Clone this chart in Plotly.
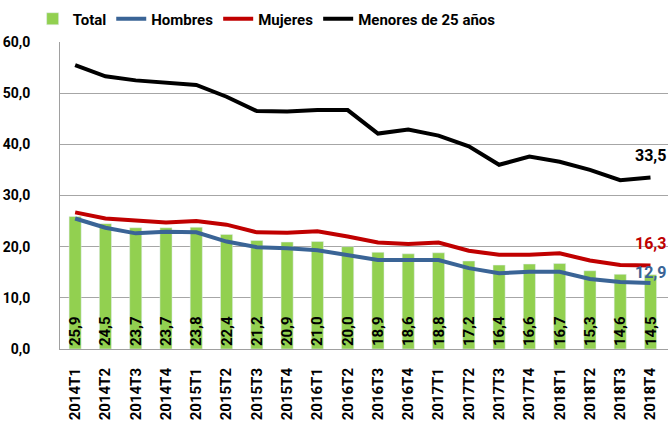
import plotly.graph_objects as go

categories = ["2014T1","2014T2","2014T3","2014T4","2015T1","2015T2","2015T3","2015T4",
              "2016T1","2016T2","2016T3","2016T4","2017T1","2017T2","2017T3","2017T4",
              "2018T1","2018T2","2018T3","2018T4"]
total = [25.9,24.5,23.7,23.7,23.8,22.4,21.2,20.9,21.0,20.0,18.9,18.6,18.8,17.2,16.4,16.6,16.7,15.3,14.6,14.5]
hombres = [25.5,23.7,22.6,22.9,22.8,21.0,19.9,19.7,19.3,18.3,17.4,17.4,17.4,15.8,14.8,15.1,15.1,13.7,13.1,12.9]
mujeres = [26.7,25.5,25.1,24.7,25.0,24.3,22.8,22.7,23.0,22.0,20.8,20.5,20.8,19.2,18.4,18.4,18.7,17.3,16.4,16.3]
menores = [55.5,53.3,52.5,52.1,51.6,49.3,46.5,46.4,46.7,46.7,42.1,42.9,41.7,39.6,36.0,37.6,36.6,35.0,33.0,33.5]
y_ticks = [0,10,20,30,40,50,60]

FONT = "Roboto, Liberation Sans, sans-serif"

def fmt(v):
    return f"{v:.1f}".replace(".", ",")

fig = go.Figure()
fig.add_trace(go.Bar(
    x=categories, y=total, name="<b>Total</b>", marker_color="#92D050",
    width=0.4,
    text=[f"<b>{fmt(v)}</b>" for v in total],
    textposition="inside", insidetextanchor="start", textangle=-90,
    constraintext="none",
    textfont=dict(family=FONT, size=15, color="black"),
))
series = [("Hombres", hombres, "#3A6496", 11),
          ("Mujeres", mujeres, "#C00000", 22),
          ("Menores de 25 años", menores, "black", 22)]
for name, vals, color, shift in series:
    fig.add_trace(go.Scatter(
        x=categories, y=vals, name=f"<b>{name}</b>", mode="lines",
        line=dict(color=color, width=4),
    ))
    fig.add_annotation(
        x=categories[-1], y=vals[-1], text=f"<b>{fmt(vals[-1])}</b>",
        showarrow=False, yshift=shift, xanchor="center", yanchor="middle",
        font=dict(family=FONT, size=16, color=color),
    )

fig.update_layout(
    width=669, height=427,
    margin=dict(l=60, r=1, t=42, b=78),
    paper_bgcolor="white", plot_bgcolor="white",
    separators=",.",
    font=dict(family=FONT, color="black"),
    showlegend=True,
    legend=dict(orientation="h", x=-0.045, xanchor="left", y=1.075, yanchor="middle",
                font=dict(family=FONT, size=15, color="black"),
                traceorder="normal", itemwidth=30, bgcolor="rgba(0,0,0,0)"),
    bargap=0.6,
)
fig.update_xaxes(
    type="category", tickangle=-90, showgrid=False, automargin=False,
    showline=True, linecolor="#A0A0A0", linewidth=1,
    tickfont=dict(family=FONT, size=15, color="black"),
    ticks="", ticklabelstandoff=12,
    tickvals=categories, ticktext=[f"<b>{c}</b>" for c in categories],
)
fig.update_yaxes(
    range=[0, 60], tickvals=y_ticks, automargin=False,
    ticktext=[f"<b>{fmt(v)}</b>" for v in y_ticks],
    showgrid=True, gridcolor="#A6A6A6", gridwidth=1,
    showline=True, linecolor="#A0A0A0", linewidth=1,
    zeroline=False,
    tickfont=dict(family=FONT, size=14, color="black"),
    ticks="", ticklabelstandoff=26,
)

fig.write_html(
    "out.html",
    config={"displayModeBar": False},
    post_script="document.body.style.margin='0';document.body.style.overflow='hidden';",
)
